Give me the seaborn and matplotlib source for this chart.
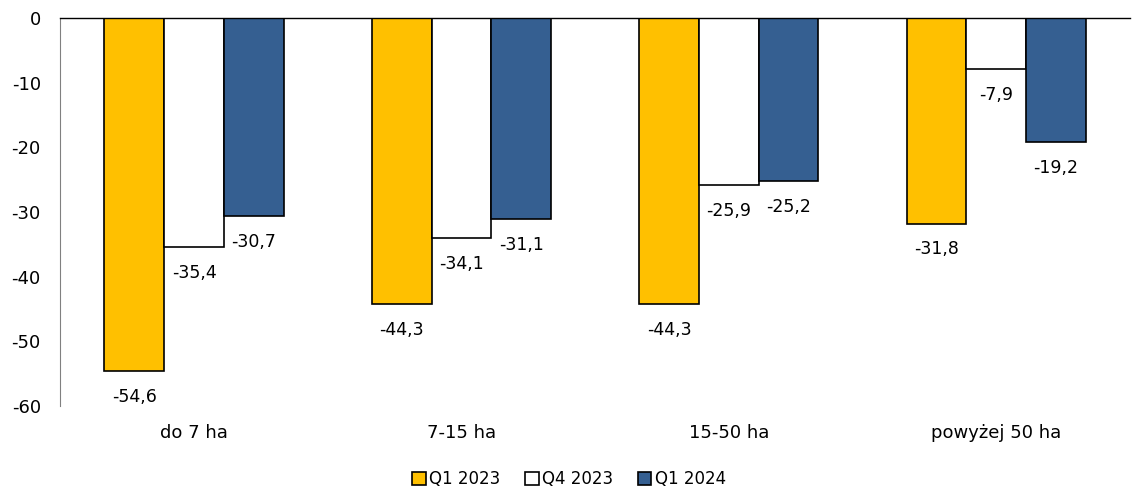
import pandas as pd
import matplotlib
matplotlib.use("Agg")
import matplotlib.pyplot as plt
import seaborn as sns

categories = ["do 7 ha", "7-15 ha", "15-50 ha", "powyżej 50 ha"]
series = ["Q1 2023", "Q4 2023", "Q1 2024"]
q1_2023 = [-54.6, -44.3, -44.3, -31.8]
q4_2023 = [-35.4, -34.1, -25.9, -7.9]
q1_2024 = [-30.7, -31.1, -25.2, -19.2]
colors = ["#FFC000", "#FFFFFF", "#355F91"]

df = pd.DataFrame({
    "kategoria": categories * 3,
    "okres": [s for s in series for _ in categories],
    "wartosc": q1_2023 + q4_2023 + q1_2024,
})

sns.set_style("white")
plt.rcParams["font.family"] = "sans-serif"
plt.rcParams["font.sans-serif"] = ["DejaVu Sans"]
plt.rcParams["axes.unicode_minus"] = False
plt.rcParams["text.color"] = "black"
plt.rcParams["xtick.color"] = "black"
plt.rcParams["ytick.color"] = "black"

fig = plt.figure(figsize=(11.38, 4.97), dpi=100)
ax = fig.add_axes([0.053, 0.183, 0.94, 0.781])

sns.barplot(data=df, x="kategoria", y="wartosc", hue="okres", order=categories,
            hue_order=series, palette=colors, saturation=1, width=0.67, gap=0,
            edgecolor="black", linewidth=1.2, ax=ax, legend=False)

for cont in ax.containers:
    labels = [f"{v:.1f}".replace(".", ",") for v in cont.datavalues]
    ax.bar_label(cont, labels=labels, padding=12, fontsize=12.5, color="black")

ax.set_ylim(-60, 0)
ax.set_yticks(range(-60, 1, 10))
ax.set_xlim(-0.5, 3.5)
ax.set_xlabel("")
ax.set_ylabel("")
ax.tick_params(axis="both", length=0, labelsize=13, labelcolor="black")
ax.tick_params(axis="x", pad=13)
ax.tick_params(axis="y", pad=14)

for s in ["right", "bottom"]:
    ax.spines[s].set_visible(False)
ax.spines["left"].set_color("#808080")
ax.spines["top"].set_color("black")
ax.spines["top"].set_linewidth(1.0)

handles = [plt.Rectangle((0, 0), 1, 1, facecolor=c, edgecolor="black", linewidth=1.2)
           for c in colors]
fig.legend(handles, series, loc="lower center", bbox_to_anchor=(0.5, -0.012), ncol=3,
           frameon=False, fontsize=12, handlelength=0.8, handleheight=0.8,
           handletextpad=0.2, columnspacing=1.5)

fig.savefig("out.png", dpi=100)
